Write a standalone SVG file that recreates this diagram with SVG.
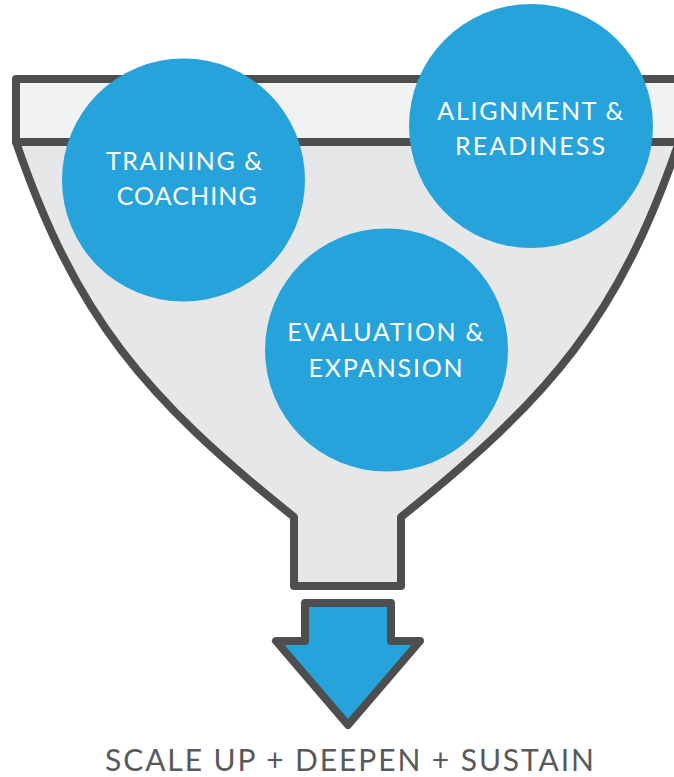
<svg xmlns="http://www.w3.org/2000/svg" width="674" height="777" viewBox="0 0 674 777">
<style>
.outline{stroke:#4d4e50;stroke-width:8;stroke-linejoin:round}
.node{fill:#27a3db}
.lbl{font-family:Lato,"Open Sans","Liberation Sans",sans-serif;font-size:25px;fill:#ffffff;text-anchor:middle}
.cap{font-family:Lato,"Open Sans","Liberation Sans",sans-serif;font-size:30px;fill:#58595b;text-anchor:middle}
</style>
<rect width="674" height="777" fill="#ffffff"/>
<g id="funnel">
<path class="outline" fill="#e6e7e8" d="M16,142 C76,317 144,397 294,517 L294,586 L401,586 L401,517 C551,397 619,317 679,142 Z"/>
<rect class="outline" fill="#f1f2f2" x="16" y="79" width="663" height="63"/>
</g>
<g id="arrow">
<path class="outline" fill="#27a3db" d="M305,603 H391 V641 H420 L348,725 L276,641 H305 Z"/>
</g>
<g id="training">
<circle class="node" cx="183.5" cy="180" r="121.5"/>
<text class="lbl" x="184" y="169.5" textLength="156" lengthAdjust="spacing">TRAINING &amp;</text>
<text class="lbl" x="186.7" y="205" textLength="140" lengthAdjust="spacing">COACHING</text>
</g>
<g id="alignment">
<circle class="node" cx="531" cy="126" r="122"/>
<text class="lbl" x="530.3" y="119.5" textLength="186" lengthAdjust="spacing">ALIGNMENT &amp;</text>
<text class="lbl" x="530" y="155" textLength="150" lengthAdjust="spacing">READINESS</text>
</g>
<g id="evaluation">
<circle class="node" cx="386.5" cy="350" r="121.5"/>
<text class="lbl" x="385.3" y="340.7" textLength="196" lengthAdjust="spacing">EVALUATION &amp;</text>
<text class="lbl" x="385.5" y="376.7" textLength="154" lengthAdjust="spacing">EXPANSION</text>
</g>
<g id="connectors"></g>
<text class="cap" x="349.5" y="770.7" textLength="489" lengthAdjust="spacing">SCALE UP + DEEPEN + SUSTAIN</text>
</svg>
